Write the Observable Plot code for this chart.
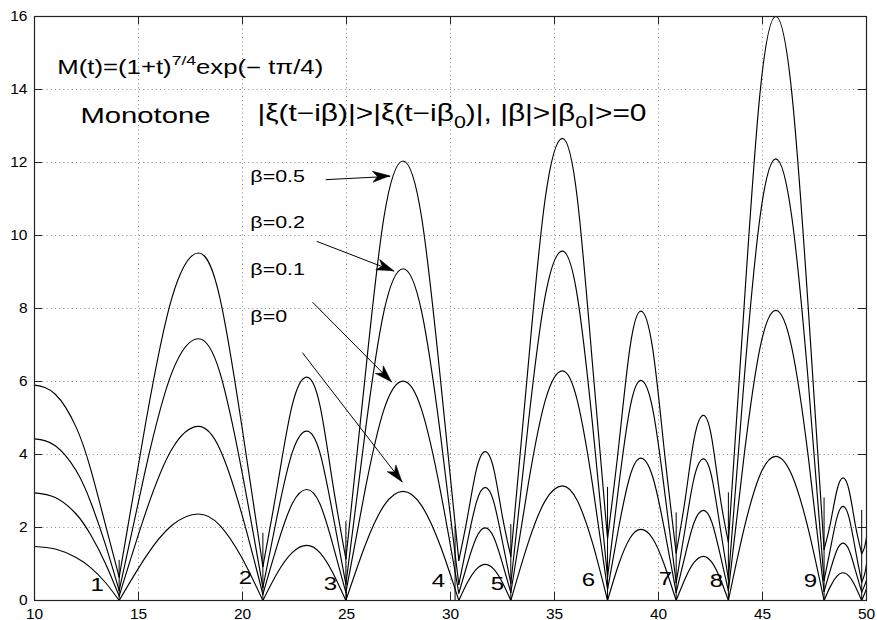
<!DOCTYPE html>
<html><head><meta charset="utf-8">
<script src="https://cdn.jsdelivr.net/npm/d3@7"></script>
<script src="https://cdn.jsdelivr.net/npm/@observablehq/plot@0.6"></script>
<style>body{margin:0;background:#fff;} #chart{width:877px;height:620px;}</style>
</head><body><div id="chart"></div>
<script>
// ---- data ----
const xTicks = [10, 15, 20, 25, 30, 35, 40, 45, 50];
const yTicks = [0, 2, 4, 6, 8, 10, 12, 14, 16];

// sample positions t for each arch (between successive zeros)
const archT = [
  [10, 11, 12, 12.7, 13.4, 14.07],
  [14.07, 15.34, 16.61, 17.88, 18.91, 19.95, 20.98],
  [20.98, 21.68, 22.39, 23.09, 23.72, 24.34, 24.97],
  [24.97, 25.89, 26.8, 27.72, 28.61, 29.51, 30.4],
  [30.4, 30.82, 31.25, 31.67, 32.08, 32.49, 32.9],
  [32.9, 33.73, 34.55, 35.38, 36.1, 36.83, 37.55],
  [37.55, 38.08, 38.62, 39.15, 39.72, 40.28, 40.85],
  [40.85, 41.29, 41.72, 42.16, 42.56, 42.96, 43.36],
  [43.36, 44.12, 44.88, 45.64, 46.41, 47.19, 47.96],
  [47.96, 48.26, 48.57, 48.87, 49.17, 49.47, 49.77],
  [49.77, 49.9, 50]
];
const beta05 = [
  [5.9, 5.65, 4.75, 3.6, 2.1, 0.64],
  [0.64, 4.85, 8.3, 9.52, 8.3, 4.85, 0.93],
  [0.93, 3.15, 5.35, 6.12, 5.35, 3.2, 1.14],
  [1.14, 6.1, 10.5, 12.04, 10.5, 6.1, 1.10],
  [1.10, 2.3, 3.6, 4.08, 3.6, 2.32, 1.21],
  [1.21, 6.4, 11.0, 12.66, 11.0, 6.45, 1.69],
  [1.69, 4.2, 6.9, 7.93, 6.9, 4.1, 1.30],
  [1.30, 2.8, 4.45, 5.07, 4.45, 2.85, 1.60],
  [1.60, 8.1, 13.9, 16.0, 13.9, 8.1, 1.40],
  [1.40, 2.1, 3.0, 3.36, 3.0, 2.05, 1.28],
  [1.28, 1.45, 1.73]
];
const beta02 = [
  [4.43, 4.24, 3.56, 2.7, 1.55, 0.27],
  [0.27, 3.6, 6.25, 7.17, 6.25, 3.6, 0.36],
  [0.36, 2.35, 4.05, 4.64, 4.05, 2.37, 0.45],
  [0.45, 4.58, 7.92, 9.09, 7.92, 4.58, 0.44],
  [0.44, 1.62, 2.7, 3.10, 2.7, 1.63, 0.47],
  [0.47, 4.8, 8.33, 9.57, 8.33, 4.82, 0.64],
  [0.64, 3.1, 5.25, 6.03, 5.25, 3.05, 0.49],
  [0.49, 2.0, 3.38, 3.88, 3.38, 2.02, 0.58],
  [0.58, 6.07, 10.5, 12.1, 10.5, 6.07, 0.55],
  [0.55, 1.4, 2.25, 2.58, 2.25, 1.38, 0.50],
  [0.50, 0.7, 1.0]
];
const beta01 = [
  [2.95, 2.82, 2.37, 1.8, 1.03, 0.12],
  [0.12, 2.4, 4.15, 4.77, 4.15, 2.4, 0.17],
  [0.17, 1.53, 2.65, 3.04, 2.65, 1.54, 0.22],
  [0.22, 3.02, 5.23, 6.01, 5.23, 3.02, 0.20],
  [0.20, 1.02, 1.73, 1.99, 1.73, 1.03, 0.22],
  [0.22, 3.16, 5.47, 6.29, 5.47, 3.17, 0.30],
  [0.30, 1.98, 3.39, 3.90, 3.39, 1.96, 0.22],
  [0.22, 1.26, 2.15, 2.47, 2.15, 1.27, 0.27],
  [0.27, 3.99, 6.92, 7.95, 6.92, 3.99, 0.25],
  [0.25, 0.83, 1.37, 1.57, 1.37, 0.82, 0.23],
  [0.23, 0.4, 0.56]
];
const beta00 = [
  [1.48, 1.41, 1.18, 0.9, 0.5, 0],
  [0, 1.19, 2.06, 2.37, 2.06, 1.19, 0],
  [0, 0.76, 1.31, 1.51, 1.31, 0.76, 0],
  [0, 1.5, 2.6, 2.99, 2.6, 1.5, 0],
  [0, 0.5, 0.86, 0.99, 0.86, 0.5, 0],
  [0, 1.57, 2.73, 3.14, 2.73, 1.57, 0],
  [0, 0.98, 1.7, 1.95, 1.7, 0.98, 0],
  [0, 0.61, 1.05, 1.21, 1.05, 0.61, 0],
  [0, 1.98, 3.44, 3.95, 3.44, 1.98, 0],
  [0, 0.38, 0.66, 0.76, 0.66, 0.38, 0],
  [0, 0.18, 0.32]
];
const betaNames = ["0.5", "0.2", "0.1", "0"];
const betaSeries = [beta05, beta02, beta01, beta00];

// short vertical markers at the zeros
const zeroTickX = [14.07, 20.98, 24.97, 30.22, 32.9, 37.55, 40.85, 43.36, 47.96, 49.77];
const zeroTickTop = [1.1, 1.84, 2.16, 2.03, 2.08, 3.1, 2.4, 2.95, 2.81, 2.47];
// zero numbers
const zeroLabels = ["1", "2", "3", "4", "5", "6", "7", "8", "9"];
const zeroLabelX = [13.04, 20.16, 24.25, 29.44, 32.28, 36.66, 40.36, 42.81, 47.33];
const zeroLabelY = [0.44, 0.63, 0.46, 0.55, 0.47, 0.57, 0.58, 0.55, 0.55];

// annotation texts
const betaLabelText = ["β=0.5", "β=0.2", "β=0.1", "β=0"];
const betaLabelX = [20.40, 20.40, 20.40, 20.40];
const betaLabelY = [11.46, 10.18, 8.90, 7.62];
const arrowX1 = [24.0, 23.57, 23.37, 22.88];
const arrowY1 = [11.53, 9.84, 8.17, 6.79];
const arrowX2 = [27.10, 27.29, 27.18, 27.69];
const arrowY2 = [11.62, 9.02, 5.98, 3.24];
const formulaPos = [11.12, 14.41];
const monotonePos = [12.23, 13.06];
const xiPos = [20.74, 13.12];

// ---- build tables ----
const rows = [];
betaSeries.forEach((series, b) => {
  series.forEach((vals, a) => {
    vals.forEach((v, j) => rows.push({beta: betaNames[b], arch: a, key: betaNames[b] + "-" + a, t: archT[a][j], v}));
  });
});
const zeroTicks = zeroTickX.map((x, i) => ({x, top: zeroTickTop[i]}));
const arrows = arrowX1.map((x1, i) => ({x1, y1: arrowY1[i], x2: arrowX2[i], y2: arrowY2[i]}));
const innerX = xTicks.slice(1, -1), innerY = yTicks.slice(1, -1);

const W = 877, H = 620, ML = 34, MR = 11, MT = 16, MB = 20;
const tickLenY = 8 / ((H - MT - MB) / 16);
const tickLenX = 8 / ((W - ML - MR) / 40);
const FONT = "'Liberation Sans', Arial, Helvetica, sans-serif";
const STRETCH = 1.3;

function annotations(index, scales, values, dimensions) {
  const sx = scales.x, sy = scales.y;
  const g = d3.create("svg:g").attr("font-family", FONT).attr("fill", "black").attr("text-anchor", "start");
  const place = (x, y) => `translate(${sx(x)},${sy(y)}) scale(${STRETCH},1)`;
  // formula
  const f = g.append("text").attr("text-anchor", "start").attr("transform", place(...formulaPos)).attr("font-size", 19.8);
  f.append("tspan").text("M(t)=(1+t)");
  f.append("tspan").attr("dy", -9).attr("font-size", 13.5).text("7/4");
  f.append("tspan").attr("dy", 9).text("exp(− tπ/4)");
  // Monotone
  g.append("text").attr("text-anchor", "start").attr("transform", place(...monotonePos)).attr("font-size", 22.5).text("Monotone");
  // xi inequality
  const t = g.append("text").attr("text-anchor", "start").attr("transform", place(...xiPos)).attr("font-size", 23);
  t.append("tspan").text("|ξ(t−iβ)|>|ξ(t−iβ");
  t.append("tspan").attr("dy", 7).attr("font-size", 16.5).text("0");
  t.append("tspan").attr("dy", -7).text(")|, |β|>|β");
  t.append("tspan").attr("dy", 7).attr("font-size", 16.5).text("0");
  t.append("tspan").attr("dy", -7).text("|>=0");
  // beta labels
  betaLabelText.forEach((s, i) => {
    g.append("text").attr("text-anchor", "start").attr("transform", place(betaLabelX[i], betaLabelY[i])).attr("font-size", 16.5).text(s);
  });
  // zero labels
  zeroLabels.forEach((s, i) => {
    g.append("text").attr("transform", place(zeroLabelX[i], zeroLabelY[i]))
      .attr("font-size", 18.5).attr("text-anchor", "middle").attr("dy", "0.36em").text(s);
  });
  // filled arrow heads
  arrows.forEach(a => {
    const x1 = sx(a.x1), y1 = sy(a.y1), x2 = sx(a.x2), y2 = sy(a.y2);
    const dx = x2 - x1, dy = y2 - y1, len = Math.hypot(dx, dy);
    const ux = dx / len, uy = dy / len, nx = -uy, ny = ux;
    const L = 17, Wd = 5.5;
    const bx = x2 - L * ux, by = y2 - L * uy;
    const kx = x2 - 0.72 * L * ux, ky = y2 - 0.72 * L * uy;
    g.append("path").attr("d", `M${x2},${y2}L${bx + Wd * nx},${by + Wd * ny}L${kx},${ky}L${bx - Wd * nx},${by - Wd * ny}Z`)
      .attr("fill", "black").attr("stroke", "black").attr("stroke-width", 0.6);
  });
  return g.node();
}

const chart = Plot.plot({
  width: W, height: H,
  marginLeft: ML, marginRight: MR, marginTop: MT, marginBottom: MB,
  style: {fontFamily: FONT, fontSize: "15px", color: "black", background: "white", overflow: "visible"},
  x: {domain: [10, 50], ticks: xTicks, tickFormat: d => d},
  y: {domain: [0, 16], ticks: yTicks, tickFormat: d => d},
  marks: [
    Plot.gridX(xTicks, {stroke: "#8a8a8a", strokeOpacity: 1, strokeDasharray: "1,3.2", strokeWidth: 1}),
    Plot.gridY(yTicks, {stroke: "#8a8a8a", strokeOpacity: 1, strokeDasharray: "1,3.2", strokeWidth: 1}),
    Plot.axisX(xTicks, {tickSize: 0, tickPadding: 7, fontSize: 15.5, fill: "black"}),
    Plot.axisY(yTicks, {tickSize: 0, tickPadding: 7, fontSize: 15.5, fill: "black"}),
    Plot.ruleX(innerX, {x: d => d, y1: 0, y2: tickLenY, stroke: "#222", strokeWidth: 1}),
    Plot.ruleX(innerX, {x: d => d, y1: 16, y2: 16 - tickLenY, stroke: "#222", strokeWidth: 1}),
    Plot.ruleY(innerY, {y: d => d, x1: 10, x2: 10 + tickLenX, stroke: "#222", strokeWidth: 1}),
    Plot.ruleY(innerY, {y: d => d, x1: 50, x2: 50 - tickLenX, stroke: "#222", strokeWidth: 1}),
    Plot.ruleX(zeroTicks, {x: "x", y1: 0, y2: "top", stroke: "black", strokeWidth: 1}),
    Plot.line(rows, {x: "t", y: "v", z: "key", curve: "natural", stroke: "black", strokeWidth: 1.15}),
    Plot.link(arrows, {x1: "x1", y1: "y1", x2: "x2", y2: "y2", stroke: "black", strokeWidth: 1}),
    Plot.frame({stroke: "#222", strokeWidth: 1.2}),
    annotations
  ]
});
document.getElementById("chart").appendChild(chart);
</script>
</body></html>
